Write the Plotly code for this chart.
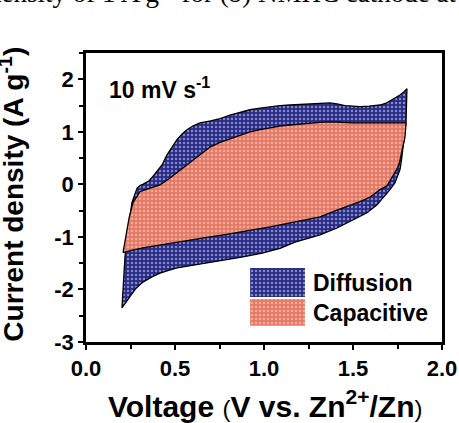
import plotly.graph_objects as go

# ---------------- data ----------------
# Full CV (outer loop) - anodic (upper) branch
outer_up_v = [0.202, 0.213, 0.219, 0.236, 0.258, 0.287, 0.305, 0.320, 0.337, 0.354, 0.376,
              0.405, 0.427, 0.455, 0.483, 0.511, 0.540, 0.567, 0.600, 0.640, 0.700, 0.753,
              0.809, 0.865, 0.921, 0.978, 1.034, 1.090, 1.146, 1.202, 1.258, 1.314, 1.370,
              1.410, 1.455, 1.500, 1.539, 1.590, 1.652, 1.690, 1.719, 1.745, 1.764, 1.785, 1.803]
outer_up_i = [-2.35, -1.63, -1.38, -0.87, -0.35, -0.07, -0.02, 0.00, 0.04, 0.07, 0.15,
              0.27, 0.37, 0.56, 0.71, 0.85, 0.96, 1.04, 1.11, 1.17, 1.21, 1.25,
              1.32, 1.37, 1.42, 1.45, 1.48, 1.50, 1.51, 1.52, 1.53, 1.54, 1.55,
              1.53, 1.50, 1.49, 1.48, 1.49, 1.51, 1.55, 1.61, 1.66, 1.70, 1.76, 1.82]
# Full CV (outer loop) - cathodic (lower) branch, from high to low voltage
outer_dn_v = [1.798, 1.790, 1.781, 1.772, 1.764, 1.750, 1.736, 1.708, 1.669, 1.635, 1.579,
              1.500, 1.410, 1.315, 1.174, 1.090, 0.990, 0.882, 0.790, 0.697, 0.600,
              0.511, 0.460, 0.416, 0.370, 0.320, 0.280, 0.247, 0.220, 0.202]
outer_dn_i = [1.19, 0.92, 0.66, 0.45, 0.28, 0.14, 0.03, -0.10, -0.26, -0.39, -0.54,
              -0.68, -0.83, -0.96, -1.10, -1.22, -1.31, -1.38, -1.43, -1.48, -1.54,
              -1.59, -1.64, -1.69, -1.76, -1.86, -1.98, -2.14, -2.26, -2.35]

# Capacitive contribution (inner loop) - upper branch
inner_up_v = [0.208, 0.225, 0.242, 0.264, 0.303, 0.360, 0.416, 0.472, 0.545, 0.600, 0.650,
              0.697, 0.753, 0.809, 0.865, 0.921, 0.978, 1.034, 1.090, 1.146, 1.202, 1.258,
              1.314, 1.370, 1.435, 1.500, 1.600, 1.691, 1.750, 1.798]
inner_up_i = [-1.30, -0.96, -0.64, -0.35, -0.14, -0.07, -0.01, 0.12, 0.31, 0.45, 0.58,
              0.71, 0.80, 0.87, 0.94, 1.00, 1.04, 1.08, 1.11, 1.13, 1.15, 1.17,
              1.18, 1.19, 1.18, 1.17, 1.17, 1.17, 1.17, 1.17]
# Capacitive contribution (inner loop) - lower branch, from high to low voltage
inner_dn_v = [1.792, 1.780, 1.770, 1.760, 1.745, 1.725, 1.691, 1.652, 1.596, 1.539, 1.470,
              1.410, 1.315, 1.174, 1.090, 1.034, 0.960, 0.882, 0.790, 0.697, 0.600,
              0.511, 0.420, 0.320, 0.260, 0.208]
inner_dn_i = [0.90, 0.71, 0.55, 0.40, 0.28, 0.16, -0.03, -0.10, -0.24, -0.33, -0.41,
              -0.49, -0.62, -0.72, -0.78, -0.81, -0.85, -0.90, -0.95, -1.00, -1.05,
              -1.10, -1.15, -1.21, -1.25, -1.30]

x_tickvals = [0.0, 0.5, 1.0, 1.5, 2.0]
x_ticktext = ["0.0", "0.5", "1.0", "1.5", "2.0"]
y_tickvals = [-3, -2, -1, 0, 1, 2]
y_ticktext = ["-3", "-2", "-1", "0", "1", "2"]
series_names = ["Diffusion", "Capacitive"]

# ---------------- styling ----------------
FONT = "Arial, Liberation Sans, sans-serif"
BLUE = "#262a88"
RED = "#e67863"
blue_pat = dict(shape=".", fgcolor="#e8e8f4", bgcolor=BLUE, size=4, solidity=0.3)
red_pat = dict(shape=".", fgcolor="#fbe2da", bgcolor=RED, size=4, solidity=0.3)

outer_v = outer_up_v + outer_dn_v
outer_i = outer_up_i + outer_dn_i
inner_v = inner_up_v + inner_dn_v
inner_i = inner_up_i + inner_dn_i

fig = go.Figure()
fig.add_trace(go.Scatter(x=outer_v, y=outer_i, mode="lines", fill="toself",
                         fillcolor=BLUE, fillpattern=blue_pat,
                         line=dict(color="black", width=1.3), name=series_names[0],
                         showlegend=False, hoverinfo="skip"))
fig.add_trace(go.Scatter(x=inner_v, y=inner_i, mode="lines", fill="toself",
                         fillcolor=RED, fillpattern=red_pat,
                         line=dict(color="black", width=1.3), name=series_names[1],
                         showlegend=False, hoverinfo="skip"))

# legend swatches on an overlay axis spanning the plot area (0..1)
swatches = [((0.461, 0.615), (0.156, 0.256), blue_pat, BLUE),
            ((0.461, 0.615), (0.056, 0.149), red_pat, RED)]
for (x0, x1), (y0, y1), pat, col in swatches:
    fig.add_trace(go.Scatter(x=[x0, x1, x1, x0, x0], y=[y0, y0, y1, y1, y0],
                             xaxis="x2", yaxis="y2", mode="lines", fill="toself",
                             fillcolor=col, fillpattern=pat,
                             line=dict(width=0, color="rgba(0,0,0,0)"),
                             showlegend=False, hoverinfo="skip"))

axis_common = dict(showline=True, linewidth=2.5, linecolor="black", mirror=True,
                   ticks="outside", ticklen=5, tickwidth=2, tickcolor="black",
                   showgrid=False, zeroline=False, automargin=False,
                   tickfont=dict(family=FONT, size=22, color="black", weight="bold"))

fig.update_layout(
    width=459, height=423,
    margin=dict(l=86, r=17, t=53, b=81, autoexpand=False),
    paper_bgcolor="white", plot_bgcolor="white",
    showlegend=False,
    xaxis=dict(range=[0, 2], tickmode="array", tickvals=x_tickvals, ticktext=x_ticktext,
               minor=dict(tickmode="linear", tick0=0, dtick=0.25, ticks="outside",
                          ticklen=4, tickwidth=2, tickcolor="black"),
               **axis_common),
    yaxis=dict(range=[-3, 2.5], tickmode="array", tickvals=y_tickvals, ticktext=y_ticktext,
               minor=dict(tickmode="linear", tick0=0, dtick=0.5, ticks="outside",
                          ticklen=4, tickwidth=2, tickcolor="black"),
               **axis_common),
    xaxis2=dict(range=[0, 1], overlaying="x", visible=False, fixedrange=True),
    yaxis2=dict(range=[0, 1], overlaying="y", visible=False, fixedrange=True),
)

ann = []
ann.append(dict(text="10 mV s<sup>-1</sup>", x=0.058, y=0.88, xref="paper", yref="paper",
                xanchor="left", yanchor="middle", showarrow=False,
                font=dict(family=FONT, size=23, color="black", weight="bold")))
ann.append(dict(text=series_names[0], x=0.632, y=0.204, xref="paper", yref="paper",
                xanchor="left", yanchor="middle", showarrow=False,
                font=dict(family=FONT, size=23, color="black", weight="bold")))
ann.append(dict(text=series_names[1], x=0.632, y=0.10, xref="paper", yref="paper",
                xanchor="left", yanchor="middle", showarrow=False,
                font=dict(family=FONT, size=23, color="black", weight="bold")))
ann.append(dict(text="Voltage <span style='font-size:24px;font-weight:normal'>(</span>V vs. Zn<sup>2+</sup>/Zn<span style='font-size:24px;font-weight:normal'>)</span>",
                x=0.503, y=-0.215, xref="paper", yref="paper",
                xanchor="center", yanchor="middle", showarrow=False,
                font=dict(family=FONT, size=30, color="black", weight="bold")))
ann.append(dict(text="Current density (A g<sup>-1</sup>)", textangle=-90,
                x=-0.209, y=0.512, xref="paper", yref="paper",
                xanchor="center", yanchor="middle", showarrow=False,
                font=dict(family=FONT, size=28, color="black", weight="bold")))
ann.append(dict(text="density of 1 A g<sup>-1</sup> for (b) NMHC cathode at",
                x=-0.282, y=1.214, xref="paper", yref="paper",
                xanchor="left", yanchor="middle", showarrow=False,
                font=dict(family="Liberation Serif, Times New Roman, serif", size=27, color="black")))
fig.update_layout(annotations=ann)

fig.write_html("out.html", config={"displayModeBar": False},
               post_script="document.body.style.margin='0px';")
